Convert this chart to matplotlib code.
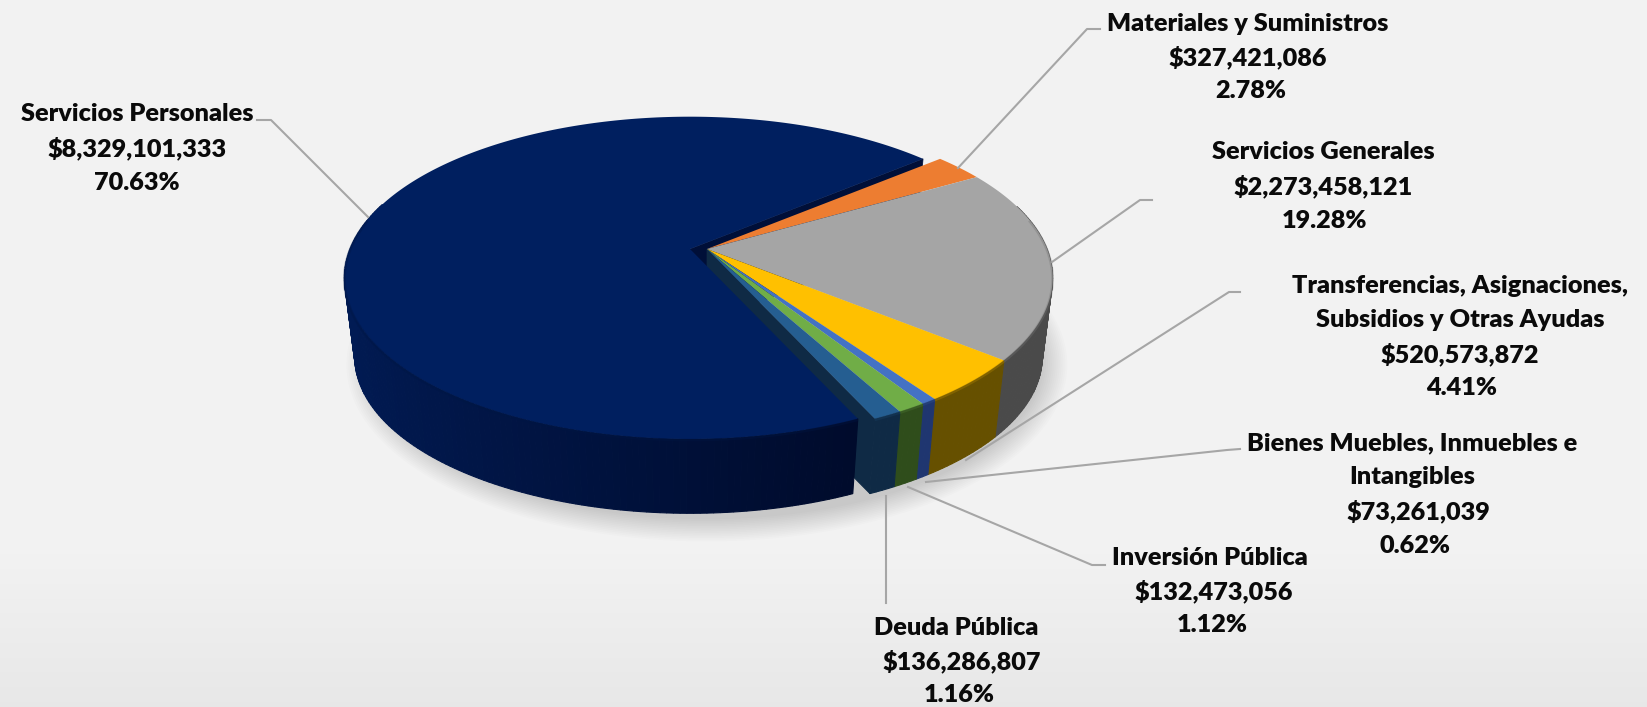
import numpy as np
import matplotlib
matplotlib.use('Agg')
import matplotlib.pyplot as plt
from matplotlib.colors import to_rgb
from matplotlib.patches import Polygon

plt.rcParams['font.family'] = ['Lato', 'DejaVu Sans']

# datos del presupuesto, en el orden de la grafica
names = [['Servicios Personales'], ['Materiales y Suministros'], ['Servicios Generales'],
         ['Transferencias, Asignaciones,', 'Subsidios y Otras Ayudas'],
         ['Bienes Muebles, Inmuebles e', 'Intangibles'], ['Inversión Pública'], ['Deuda Pública']]
amounts = [8329101333, 327421086, 2273458121, 520573872, 73261039, 132473056, 136286807]
percents = ['70.63%', '2.78%', '19.28%', '4.41%', '0.62%', '1.12%', '1.16%']

top_colors = ['#001f5f', '#ed7d31', '#a5a5a5', '#ffc000', '#4472c4', '#70ad47', '#255e91']
side_colors = ['#00103a', '#7a3f14', '#4a4a4a', '#665000', '#1f3670', '#2f4d1b', '#0f2a45']

# posicion de cada renglon de las etiquetas (px de la imagen)
label_x = [[137, 137, 137], [1248, 1248, 1251], [1323, 1323, 1325], [1460, 1460, 1460, 1462],
           [1412, 1412, 1418, 1415], [1210, 1214, 1212], [956, 962, 959]]
label_y = [[114, 148, 183], [24, 57, 91], [152, 186, 221], [286, 320, 354, 388],
           [443, 477, 511, 546], [558, 591, 625], [628, 661, 695]]
leaders = [[(257, 120), (271, 120), (368, 217)], [(1100, 29), (1087, 29), (958, 168)],
           [(1152, 200), (1140, 200), (1052, 262)], [(1240, 292), (1229, 292), (966, 460)],
           [(1240, 449), (1227, 450), (926, 482)], [(1105, 565), (1092, 565), (908, 487)],
           [(886, 603), (886, 496)]]

# geometria del pastel (perspectiva de Excel)
cx, cy, a, b, k = 707, 249, 340, 156.0, 0.179
depth, bottom_scale = 80, 0.97
explode_x = -17


def rim(t, scale=1.0, dy=0.0, dx=0.0):
    w = 1 + k * np.sin(t)
    return cx + dx + scale * a * np.cos(t) / w, cy + dy - scale * b * np.sin(t) / w


def mix(c1, c2, f):
    c1, c2 = np.array(to_rgb(c1)), np.array(to_rgb(c2))
    return tuple(c1 + (c2 - c1) * f)


fig = plt.figure(figsize=(16.47, 7.07), dpi=100)
ax = fig.add_axes([0, 0, 1, 1])
ax.set_xlim(0, 1647)
ax.set_ylim(707, 0)
ax.axis('off')

# fondo
bg = np.ones((707, 1)) * 0.949
bg[540:, 0] = np.linspace(0.949, 0.905, 167)
ax.imshow(bg, cmap='gray', vmin=0, vmax=1, extent=[0, 1647, 707, 0], aspect='auto', zorder=0)

# sombra
tt = np.linspace(0, 2 * np.pi, 200)
for g in np.linspace(26, 0, 14):
    x, y = rim(tt, bottom_scale, depth + 6)
    x0, y0 = x.mean(), y.mean()
    ax.add_patch(Polygon(np.c_[x0 + (x - x0) * (1 + g / 345), y0 + (y - y0) * (1 + g / 200)],
                         fc='k', ec='none', alpha=0.012, zorder=1))

# angulos desde los valores, sentido horario
start = np.deg2rad(-65.6)
frac = np.array(amounts) / sum(amounts)
edges = start - np.r_[0, np.cumsum(frac)] * 2 * np.pi


def draw_side(i, t0, t1, dx, z):
    ts = np.linspace(t0, t1, max(int(abs(t1 - t0) * 60), 2) + 1)
    for j in range(len(ts) - 1):
        # lo que queda atras no se ve
        if np.sin(ts[j]) > 0.3:
            continue
        pair = np.array([ts[j], ts[j + 1]])
        xt, yt = rim(pair, 1.0, 0, dx)
        xb, yb = rim(pair, bottom_scale, depth, dx)
        col = side_colors[i]
        if i == 0:
            # el costado azul se aclara hacia la izquierda
            f = np.clip((np.cos(ts[j]) * -1 + 0.4) / 1.4, 0, 1)
            col = mix('#000b2c', '#011b54', f)
        pts = np.c_[np.r_[xt, xb[::-1]], np.r_[yt, yb[::-1]]]
        ax.add_patch(Polygon(pts, fc=col, ec=col, lw=0.8, zorder=z))


def wall(t, dx, color, z):
    xo, yo = rim(np.array([t]), 1.0, 0, dx)
    xb, yb = rim(np.array([t]), bottom_scale, depth, dx)
    pts = [(cx + dx, cy), (xo[0], yo[0]), (xb[0], yb[0]), (cx + dx, cy + depth)]
    ax.add_patch(Polygon(pts, fc=color, ec=color, lw=0.5, zorder=z))


def top_face(i, t0, t1, dx, z):
    ts = np.linspace(t0, t1, 240)
    x, y = rim(ts, 1.0, 0, dx)
    pts = np.r_[[(cx + dx, cy)], np.c_[x, y]]
    ax.add_patch(Polygon(pts, fc=top_colors[i], ec='none', zorder=z))
    # borde suave
    low = np.sin(ts) < 0.2
    if low.any():
        ax.plot(x[low], y[low] + 1, color=mix(top_colors[i], '#000000', 0.3),
                lw=2.0, alpha=0.35, zorder=z + 0.1, solid_capstyle='butt')


# rebanadas chicas, detras de la grande
wall(edges[1], explode_x, '#000f38', 2)
for i in range(1, 7):
    draw_side(i, edges[i], edges[i + 1], 0, 3)
wall(edges[7], 0, side_colors[6], 4)
for i in range(1, 7):
    top_face(i, edges[i], edges[i + 1], 0, 5)

# servicios personales, separada
draw_side(0, edges[0], edges[1], explode_x, 7)
top_face(0, edges[0], edges[1], explode_x, 8)

# lineas guia
for pts in leaders:
    xs, ys = zip(*pts)
    ax.plot(xs, ys, color='#a6a6a6', lw=1.5, zorder=9)

# etiquetas
for i in range(7):
    lines = names[i] + ['${:,}'.format(amounts[i]), percents[i]]
    for txt, x, y in zip(lines, label_x[i], label_y[i]):
        ax.text(x, y, txt, ha='center', va='center', fontsize=18.2, fontweight='heavy',
                color='#0a0a0a', zorder=10)

fig.savefig('out.png', dpi=100)
